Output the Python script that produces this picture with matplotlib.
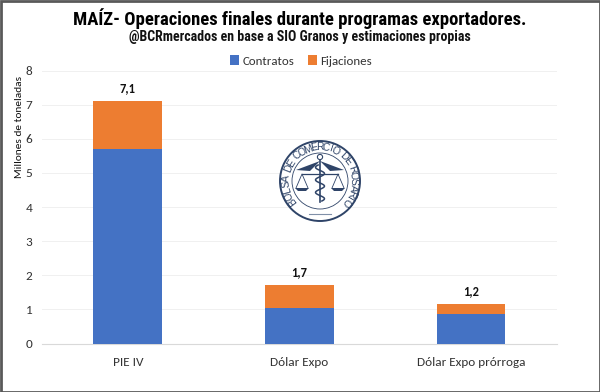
import numpy as np
import matplotlib
matplotlib.use("Agg")
import matplotlib.pyplot as plt
from matplotlib.patches import Circle, Rectangle, Polygon

categories = ["PIE IV", "Dólar Expo", "Dólar Expo prórroga"]
contratos = [5.7, 1.05, 0.85]
fijaciones = [1.4, 0.67, 0.32]
total_labels = ["7,1", "1,7", "1,2"]
yticks = [0, 1, 2, 3, 4, 5, 6, 7, 8]
title = "MAÍZ- Operaciones finales durante programas exportadores."
subtitle = "@BCRmercados en base a SIO Granos y estimaciones propias"
seal_text = "BOLSA DE COMERCIO DE ROSARIO"

W, H = 600, 392
body = ["Carlito", "Lato"]
narrow = ["Roboto Condensed", "Liberation Sans"]
fig = plt.figure(figsize=(W / 100, H / 100), dpi=100, facecolor="white")
ax = fig.add_axes([42 / W, 1 - 343.5 / H, (557 - 42) / W, (343.5 - 70.5) / H])

x = np.arange(len(categories))
ax.bar(x, contratos, 0.4, color="#4472C4", label="Contratos", zorder=3)
ax.bar(x, fijaciones, 0.4, bottom=contratos, color="#ED7D31", label="Fijaciones", zorder=3)
for xi, c, f, t in zip(x, contratos, fijaciones, total_labels):
    ax.annotate(t, (xi, c + f), xytext=(0, 5), textcoords="offset points", ha="center",
                va="bottom", fontsize=9, fontweight="bold", family=body, color="#111111")

ax.set_xlim(-0.5, 2.5)
ax.set_ylim(0, 8)
ax.set_yticks(yticks)
ax.set_xticks(x, categories)
ax.grid(axis="y", color="#F0F0F0", lw=0.7, zorder=0)
ax.set_axisbelow(True)
for s in ["top", "right", "left"]:
    ax.spines[s].set_visible(False)
ax.spines["bottom"].set_color("#D9D9D9")
ax.tick_params(length=0, labelsize=9.5, labelcolor="#333333")
ax.tick_params(axis="x", pad=10)
ax.tick_params(axis="y", pad=7)
for lab in ax.get_xticklabels() + ax.get_yticklabels():
    lab.set_family(body)
ax.set_ylabel("Millones de toneladas", fontsize=8.2, family=body, color="#111111")
ax.yaxis.set_label_coords((24 - 42) / (557 - 42), (343.5 - 127) / 273)

fig.legend(loc="center", bbox_to_anchor=(301 / W, 1 - 61 / H), ncol=2, frameon=False,
           prop={"family": body, "size": 9.3}, handlelength=0.7, handleheight=0.7,
           handletextpad=0.3, columnspacing=1.0, labelcolor="#333333")

fig.text(300 / W, 1 - 19 / H, title, ha="center", va="center", fontsize=13.4,
         fontweight="bold", family=narrow, color="black")
fig.text(300 / W, 1 - 37.5 / H, subtitle, ha="center", va="center", fontsize=10,
         fontweight="bold", family=narrow, color="#111111")

# Overlay in pixel units: outer frame and institutional seal
ov = fig.add_axes([0, 0, 1, 1], facecolor="none")
ov.set_xlim(0, W)
ov.set_ylim(H, 0)
ov.axis("off")
ov.add_patch(Rectangle((0.5, 0.5), W - 1, H - 1, fill=False, ec="#595959", lw=2))

navy = "#2F4468"
cx, cy, R = 320, 181, 40
ov.add_patch(Circle((cx, cy), R, fc="white", ec=navy, lw=1.4, zorder=4))
ov.add_patch(Circle((cx, cy), R - 12, fc="white", ec=navy, lw=0.6, zorder=4))
weights = np.array([0.55 if ch == " " else (0.6 if ch == "I" else 1.0) for ch in seal_text])
pos = np.cumsum(weights) - weights / 2
angles = 222 - pos / weights.sum() * 266
for ch, a in zip(seal_text, angles):
    r = np.deg2rad(a)
    ov.text(cx + (R - 6) * np.cos(r), cy - (R - 6) * np.sin(r), ch, rotation=a - 90,
            ha="center", va="center", fontsize=7.4, family="Liberation Sans", color=navy, zorder=5)
# caduceus and scales
sx = cx
ov.plot([sx, sx], [cy - 24, cy + 21], color=navy, lw=1.2, zorder=5)
ov.add_patch(Circle((sx, cy - 24), 2.6, fc="white", ec=navy, lw=0.8, zorder=5))
ov.add_patch(Polygon([[sx, cy - 20], [sx - 24, cy - 11], [sx - 10, cy - 10]], fc=navy, ec="none", zorder=5))
ov.add_patch(Polygon([[sx, cy - 20], [sx + 24, cy - 11], [sx + 10, cy - 10]], fc=navy, ec="none", zorder=5))
t = np.linspace(-1, 1, 60)
ov.plot(sx + 4.5 * np.sin(t * 9), cy + 2 + t * 18, color=navy, lw=1.1, zorder=5)
ov.plot([sx - 18, sx + 18], [cy - 7, cy - 7], color=navy, lw=0.9, zorder=5)
for d in (-1, 1):
    px = sx + d * 18
    ov.plot([px - 6, px, px + 6], [cy + 7, cy - 7, cy + 7], color=navy, lw=0.6, zorder=5)
    ov.add_patch(Polygon([[px - 7, cy + 7], [px + 7, cy + 7], [px + 4, cy + 10], [px - 4, cy + 10]],
                         fc=navy, ec="none", zorder=5))
ov.plot([sx - 11, sx + 11], [cy + 33, cy + 33], color="#8090A8", lw=0.8, zorder=5)

fig.savefig("out.png", dpi=100)
